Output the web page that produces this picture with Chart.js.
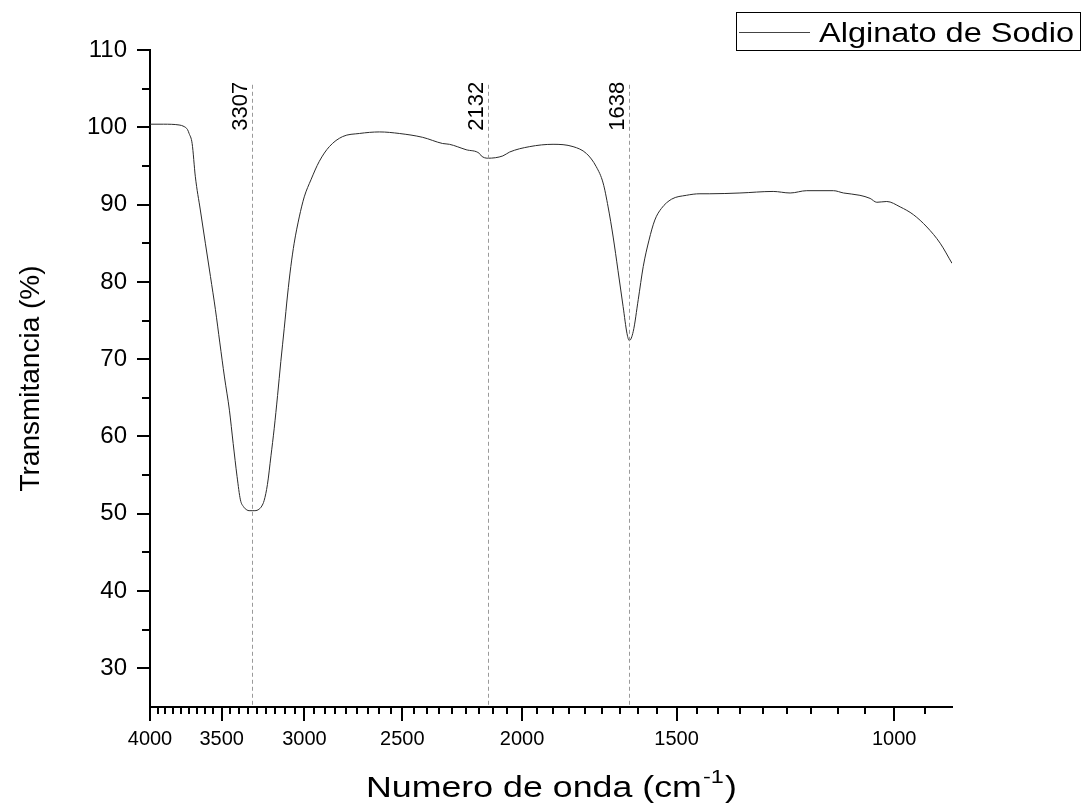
<!DOCTYPE html>
<html lang="es">
<head>
<meta charset="UTF-8">
<title>Espectro FTIR - Alginato de Sodio</title>
<script src="https://cdn.jsdelivr.net/npm/chart.js@4"></script>
<style>
  html, body { margin: 0; padding: 0; background: #fff; }
  #wrap { width: 1083px; height: 805px; }
</style>
</head>
<body>
<div id="wrap"><canvas id="ftir" width="1083" height="805"></canvas></div>
<script>
// espectro IR del alginato (número de onda en cm-1, transmitancia en %)
const numeroOnda = [
  4000, 3900, 3789, 3754, 3730, 3719, 3698, 3676, 3642, 3608, 3574, 3541, 3512, 3482, 3450,
  3426, 3401, 3380, 3360, 3340, 3326, 3307, 3290, 3264, 3248, 3234, 3214, 3193, 3174, 3154, 3135,
  3115, 3096, 3077, 3058, 3029, 3001, 2964, 2918, 2864, 2794, 2708, 2609, 2514, 2407,
  2319, 2290, 2220, 2165, 2158, 2132, 2073, 2047, 1972, 1888, 1819, 1774, 1742, 1720,
  1704, 1688, 1673, 1657, 1645, 1638, 1626, 1611, 1596, 1579, 1562, 1543, 1514, 1473,
  1436, 1410, 1333, 1253, 1214, 1177, 1120, 1099, 1066, 1046, 1033, 1014, 989, 965,
  941, 918, 898
];
const transmitancia = [
  100.4, 100.4, 100.3, 100.1, 99.7, 99.2, 97.9, 93.6, 89.3, 85.0, 80.7, 76.4, 72.1, 67.7, 63.4,
  59.1, 54.8, 51.8, 50.9, 50.5, 50.4, 50.4, 50.4, 50.6, 51.0, 51.7, 53.8, 57.5, 61.0, 65.3, 69.7,
  74.0, 78.3, 82.0, 85.0, 88.4, 91.0, 93.2, 95.6, 97.5, 98.8, 99.2, 99.4, 99.2, 98.7,
  97.9, 97.8, 97.1, 96.6, 96.3, 96.0, 96.3, 96.8, 97.5, 97.8, 97.5, 96.6, 94.9, 92.8,
  89.7, 85.8, 81.5, 76.8, 73.3, 72.4, 73.6, 77.7, 82.0, 85.4, 88.0, 89.5, 90.7, 91.2,
  91.4, 91.4, 91.5, 91.7, 91.5, 91.8, 91.8, 91.5, 91.2, 90.8, 90.3, 90.4, 89.7, 88.7,
  87.1, 85.0, 82.4
];
const picos = [3307, 2132, 1638];
const ticksX = [4000, 3500, 3000, 2500, 2000, 1500, 1000];
const ticksY = [30, 40, 50, 60, 70, 80, 90, 100, 110];

const FUENTE = '"Liberation Sans", Arial, sans-serif';

// texto estirado en horizontal hasta un ancho dado
function textoAncho(ctx, partes, x0, base, ancho) {
  let total = 0;
  partes.forEach(p => { ctx.font = p.size + 'px ' + FUENTE; p.w = ctx.measureText(p.t).width; total += p.w + (p.gap || 0); });
  ctx.save();
  ctx.translate(x0, base);
  ctx.scale(ancho / total, 1);
  let cx = 0;
  partes.forEach(p => {
    ctx.font = p.size + 'px ' + FUENTE;
    cx += p.gap || 0;
    ctx.fillText(p.t, cx, p.dy || 0);
    cx += p.w;
  });
  ctx.restore();
}

// marcas de los ejes, líneas de picos, leyenda y títulos
const decoracion = {
  id: 'decoracion',
  afterDraw(chart) {
    const { ctx, chartArea: a, scales: { x, y } } = chart;
    ctx.save();
    ctx.strokeStyle = '#000';
    ctx.lineWidth = 2;

    // eje Y: mayores cada 10, menores cada 5
    for (let v = 30; v <= 110; v += 5) {
      const py = Math.round(y.getPixelForValue(v));
      const len = v % 10 === 0 ? 13 : 8;
      ctx.beginPath();
      ctx.moveTo(a.left, py);
      ctx.lineTo(a.left - len, py);
      ctx.stroke();
    }

    // eje X: mayores cada 500, 8 menores entre ellas
    const paso = 500 / 9;
    ticksX.forEach(v => {
      const px = Math.round(x.getPixelForValue(v));
      ctx.beginPath();
      ctx.moveTo(px, a.bottom);
      ctx.lineTo(px, a.bottom + 14);
      ctx.stroke();
      for (let k = 1; k <= 8; k++) {
        const m = v - k * paso;
        if (m < x.min) break;
        const pm = Math.round(x.getPixelForValue(m));
        ctx.beginPath();
        ctx.moveTo(pm, a.bottom);
        ctx.lineTo(pm, a.bottom + 7);
        ctx.stroke();
      }
    });

    // líneas punteadas en los picos
    const yTop = y.getPixelForValue(105.5);
    ctx.font = '22px ' + FUENTE;
    ctx.fillStyle = '#000';
    picos.forEach(p => {
      const px = Math.round(x.getPixelForValue(p)) + 0.5;
      ctx.save();
      ctx.strokeStyle = '#9a9a9a';
      ctx.lineWidth = 1;
      ctx.setLineDash([4, 3]);
      ctx.beginPath();
      ctx.moveTo(px, yTop);
      ctx.lineTo(px, a.bottom);
      ctx.stroke();
      ctx.translate(px - 6, yTop - 3);
      ctx.rotate(-Math.PI / 2);
      ctx.textAlign = 'right';
      ctx.textBaseline = 'alphabetic';
      ctx.fillText(String(p), 0, 0);
      ctx.restore();
    });

    // leyenda
    ctx.lineWidth = 1;
    ctx.strokeStyle = '#000';
    ctx.strokeRect(736.5, 12.5, 344, 38);
    ctx.strokeStyle = '#444';
    ctx.beginPath();
    ctx.moveTo(739, 32.5);
    ctx.lineTo(810, 32.5);
    ctx.stroke();
    ctx.textAlign = 'left';
    ctx.textBaseline = 'alphabetic';
    textoAncho(ctx, [{ t: chart.data.datasets[0].label, size: 28 }], 819, 42, 255);

    // título eje Y
    ctx.save();
    ctx.translate(31, (a.top + a.bottom) / 2);
    ctx.rotate(-Math.PI / 2);
    ctx.textAlign = 'center';
    ctx.textBaseline = 'middle';
    ctx.font = '28px ' + FUENTE;
    ctx.fillText('Transmitancia (%)', 0, 0);
    ctx.restore();

    // título eje X con superíndice
    textoAncho(ctx, [
      { t: 'Numero de onda (cm', size: 29 },
      { t: '-1', size: 19, dy: -14, gap: 1 },
      { t: ')', size: 29, gap: 1 }
    ], 366, 797, 371);
    ctx.restore();
  }
};

new Chart(document.getElementById('ftir'), {
  type: 'line',
  data: {
    datasets: [{
      label: 'Alginato de Sodio',
      data: numeroOnda.map((v, i) => ({ x: v, y: transmitancia[i] })),
      borderColor: '#2a2a2a',
      borderWidth: 1,
      pointRadius: 0,
      cubicInterpolationMode: 'monotone',
      fill: false
    }]
  },
  options: {
    responsive: false,
    devicePixelRatio: 1,
    animation: false,
    layout: { padding: { top: 50, right: 131, bottom: 0, left: 0 } },
    plugins: { legend: { display: false }, tooltip: { enabled: false } },
    scales: {
      x: {
        type: 'logarithmic',
        reverse: true,
        min: 898,
        max: 4000,
        afterFit: s => { s.height = 98; },
        afterBuildTicks: s => { s.ticks = ticksX.map(v => ({ value: v })); },
        grid: { display: false, drawTicks: false },
        border: { display: true, color: '#000', width: 2 },
        ticks: {
          color: '#000',
          padding: 20,
          maxRotation: 0,
          autoSkip: false,
          font: { family: FUENTE, size: 20 },
          callback: v => String(v)
        }
      },
      y: {
        min: 25,
        max: 110,
        afterFit: s => { s.width = 150; },
        afterBuildTicks: s => { s.ticks = ticksY.map(v => ({ value: v })); },
        grid: { display: false, drawTicks: false },
        border: { display: true, color: '#000', width: 2 },
        ticks: {
          color: '#000',
          padding: 23,
          autoSkip: false,
          font: { family: FUENTE, size: 24 },
          callback: v => String(v)
        }
      }
    }
  },
  plugins: [decoracion]
});
</script>
</body>
</html>
